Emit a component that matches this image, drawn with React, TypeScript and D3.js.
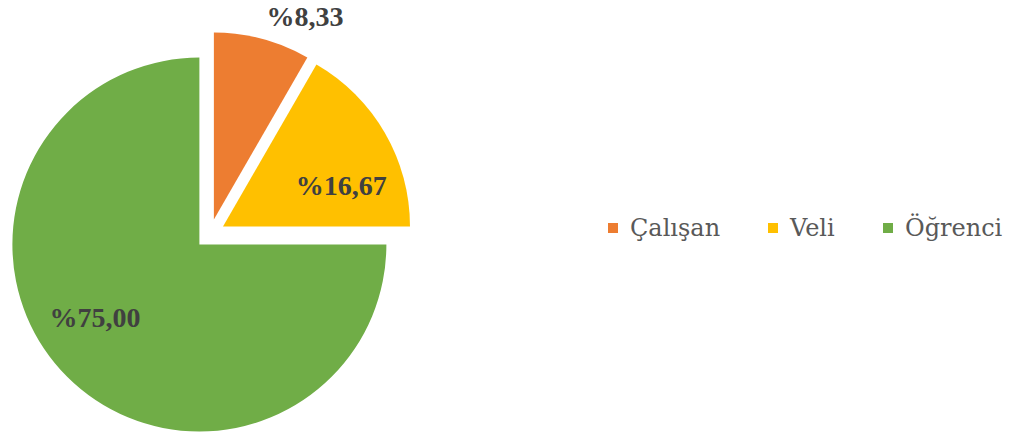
import React from 'react'
import * as d3 from 'd3'

const categories = ['Çalışan', 'Veli', 'Öğrenci']
const values = [8.33, 16.67, 75.0]
const labels = ['%8,33', '%16,67', '%75,00']
const colors = ['#ED7D31', '#FFC000', '#70AD47']

const width = 1010
const height = 438
const cx = 210
const cy = 234
const radius = 187
const explode = 15

// label placement: radius factor and angle nudge (radians) per slice
const labelRadius = [1.27, 0.75, 0.76]
const labelNudge = [0.15, 0.166, 0.157]

const legendX = [608, 768, 883]
const legendY = 228

const App = () => {
  const pie = d3.pie<number>().sort(null).value(d => d)
  const arcs = pie(values)
  const arc = d3.arc<d3.PieArcDatum<number>>().innerRadius(0).outerRadius(radius)

  return (
    <svg width={width} height={height} style={{ position: 'absolute', left: 0, top: 0, background: '#fff' }}>
      <g transform={`translate(${cx},${cy})`}>
        {arcs.map((a, i) => {
          const mid = (a.startAngle + a.endAngle) / 2
          const dx = Math.sin(mid) * explode
          const dy = -Math.cos(mid) * explode
          return (
            <path key={i} d={arc(a) || ''} fill={colors[i]} transform={`translate(${dx},${dy})`} />
          )
        })}
        {arcs.map((a, i) => {
          const mid = (a.startAngle + a.endAngle) / 2 + labelNudge[i]
          const r = radius * labelRadius[i]
          const x = Math.sin(mid) * r
          const y = -Math.cos(mid) * r
          return (
            <text key={i} x={x} y={y} dy="0.35em" textAnchor="middle"
              fontFamily="'Liberation Serif', serif" fontWeight="bold" fontSize={28} fill="#404040">
              {labels[i]}
            </text>
          )
        })}
      </g>
      {categories.map((c, i) => (
        <g key={c} transform={`translate(${legendX[i]},${legendY})`}>
          <rect x={0} y={-5} width={10} height={10} fill={colors[i]} />
          <text x={22} y={0} dy="0.35em" fontFamily="'DejaVu Serif', serif" fontSize={24} fill="#595959">{c}</text>
        </g>
      ))}
    </svg>
  )
}

export default App
